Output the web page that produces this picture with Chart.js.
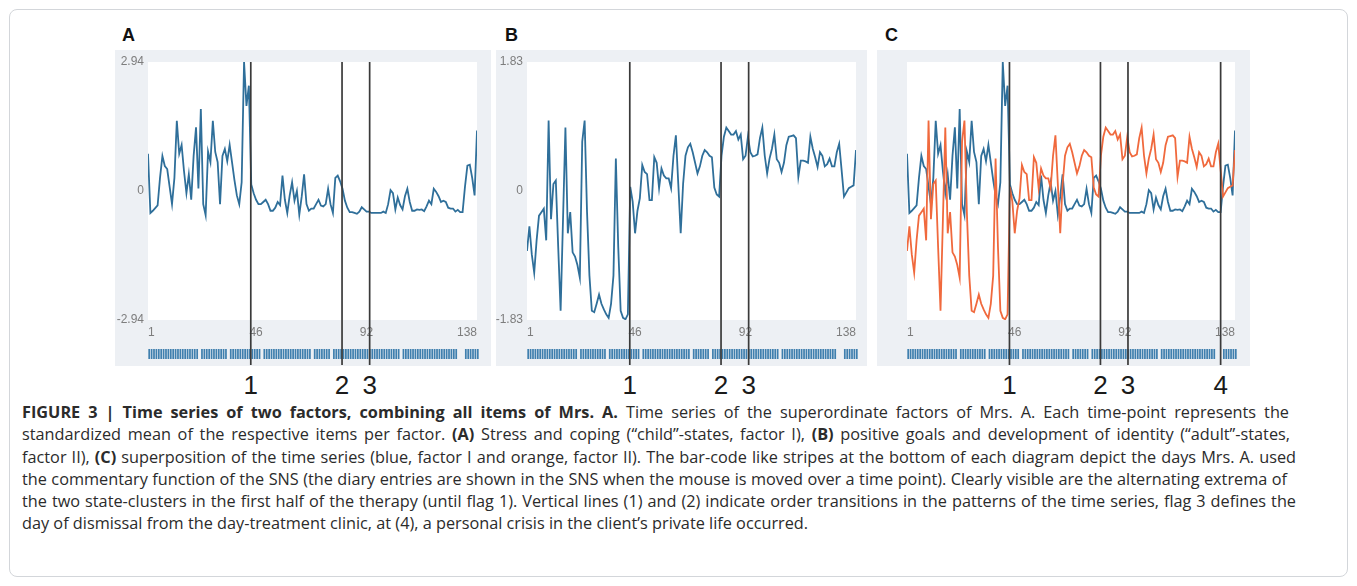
<!DOCTYPE html>
<html><head><meta charset="utf-8">
<script src="https://cdn.jsdelivr.net/npm/chart.js@4.4.1/dist/chart.umd.min.js"></script>
<style>
html,body{margin:0;padding:0;background:#fff;}
body{width:1357px;height:586px;position:relative;overflow:hidden;font-family:"Liberation Sans",Arial,sans-serif;}
#frame{position:absolute;left:9px;top:9px;width:1339px;height:568px;border:1px solid #d3d6da;border-radius:8px;box-sizing:border-box;}
.panel{position:absolute;background:#edf0f4;}
.title{position:absolute;top:25px;font-weight:bold;font-size:18px;color:#111;line-height:20px;}
.flagnum{position:absolute;top:371px;font-size:26px;color:#1a1a1a;transform:translateX(-50%);line-height:28px;}
#caption{position:absolute;left:22px;top:401px;font-family:"Open Sans","Liberation Sans",sans-serif;font-size:15px;line-height:22.3px;color:#2b2b2b;white-space:nowrap;}
#caption span{display:inline-block;}
canvas{position:absolute;}
</style></head><body>
<div id="frame"></div>
<div id="caption">
<div><span><b>FIGURE 3 | Time series of two factors, combining all items of Mrs. A.</b> Time series of the superordinate factors of Mrs. A. Each time-point represents the</span></div>
<div><span>standardized mean of the respective items per factor. <b>(A)</b> Stress and coping (“child”-states, factor I), <b>(B)</b> positive goals and development of identity (“adult”-states,</span></div>
<div><span>factor II), <b>(C)</b> superposition of the time series (blue, factor I and orange, factor II). The bar-code like stripes at the bottom of each diagram depict the days Mrs. A. used</span></div>
<div><span>the commentary function of the SNS (the diary entries are shown in the SNS when the mouse is moved over a time point). Clearly visible are the alternating extrema of</span></div>
<div><span>the two state-clusters in the first half of the therapy (until flag 1). Vertical lines (1) and (2) indicate order transitions in the patterns of the time series, flag 3 defines the</span></div>
<div><span>day of dismissal from the day-treatment clinic, at (4), a personal crisis in the client’s private life occurred.</span></div>
</div>
<script>
// ---- data ----
const days = Array.from({length:138},(_,i)=>i+1);
const xTickValues = [1, 46, 92, 138];
const factorI = [
 0.85,-0.5,-0.45,-0.39,-0.33,0.3,0.8,0.57,0.5,0.1,
 -0.3,0.3,1.6,0.85,1.05,0.45,-0.05,0.38,-0.2,0.8,
 1.45,0.06,1.87,-0.3,-0.55,0.9,0.66,1.6,0.89,0.66,
 -0.3,0.8,0.96,0.68,1.05,0.65,0.25,-0.1,-0.3,0.2,
 2.94,1.94,2.4,0.15,-0.05,-0.2,-0.3,-0.3,-0.25,-0.2,
 -0.3,-0.45,-0.45,-0.38,-0.25,-0.32,0.35,-0.2,-0.5,-0.1,
 0.2,-0.22,0.0,-0.54,-0.13,0.38,-0.3,-0.45,-0.4,-0.4,
 -0.3,-0.2,-0.33,-0.35,-0.3,0.05,-0.3,-0.5,0.3,0.35,
 0.22,0.05,-0.22,-0.38,-0.48,-0.48,-0.5,-0.52,-0.47,-0.37,
 -0.42,-0.47,-0.47,-0.5,-0.5,-0.5,-0.5,-0.5,-0.47,-0.5,
 -0.3,0.02,-0.05,-0.42,-0.15,-0.32,-0.42,-0.12,0.05,-0.25,
 -0.45,-0.45,-0.42,-0.43,-0.42,-0.46,-0.35,-0.22,-0.3,0.05,
 -0.02,-0.12,-0.25,-0.22,-0.25,-0.38,-0.4,-0.4,-0.47,-0.43,
 -0.48,-0.48,0.1,0.58,0.6,0.3,-0.1,1.38
];
const factorII = [
 -0.85,-0.5,-0.9,-1.16,-0.7,-0.35,-0.3,-0.25,-0.7,1.0,
 -0.4,0.1,0.15,-0.8,-1.7,-0.4,0.9,-0.6,-0.3,-0.87,
 -0.93,-1.05,-1.23,0.7,1.0,-0.3,-1.2,-1.7,-1.72,-1.6,
 -1.47,-1.6,-1.68,-1.75,-1.8,-1.6,-1.2,0.46,-0.8,-1.7,
 -1.8,-1.82,-1.75,0.06,-0.15,-0.6,-0.28,-0.1,0.37,0.27,
 0.24,-0.13,-0.13,0.48,0.4,0.04,0.32,0.22,0.18,0.18,
 0.04,0.5,0.79,0.1,-0.6,0.1,0.5,0.62,0.67,0.55,
 0.4,0.25,0.35,0.5,0.58,0.55,0.5,0.48,0.05,-0.05,
 -0.08,0.5,0.77,0.9,0.85,0.8,0.8,0.85,0.73,0.8,
 0.45,0.5,0.77,0.55,0.49,0.5,0.52,0.75,0.9,0.5,
 0.25,0.46,0.6,0.8,0.45,0.4,0.27,0.4,0.65,0.77,
 0.78,0.79,0.75,0.2,0.43,0.43,0.42,0.4,0.77,0.6,
 0.48,0.34,0.55,0.5,0.35,0.38,0.46,0.35,0.35,0.55,
 0.67,0.3,-0.08,-0.02,0.04,0.06,0.08,0.58
];
const rangeI = 2.94;
const rangeII = 1.83;
const noCommentDays = [22, 34, 48, 69, 77, 106, 130, 131, 132];
const flagsAB = [43.8, 81.8, 93.3];
const flagsC = [43.8, 81.8, 93.3, 132];
const flagLabelsAB = ['1','2','3'];
const flagLabelsC = ['1','2','3','4'];

// ---- styles ----
const BLUE = '#2f6f9a';
const ORANGE = '#f0693d';
const TICK = '#7d7d7d';

const panels = [
  {name:'A', box:[115,50,376,316], plot:[148,62,477,320], titleX:122, y:'I', flags:flagsAB, flagLabels:flagLabelsAB},
  {name:'B', box:[496,50,371,316], plot:[527,62,856,320], titleX:505, y:'II', flags:flagsAB, flagLabels:flagLabelsAB},
  {name:'C', box:[877,50,373,316], plot:[907,62,1235,320], titleX:885, y:'both', flags:flagsC, flagLabels:flagLabelsC}
];

const whiteArea = {id:'whiteArea', beforeDraw(chart){
  const {ctx, chartArea:a} = chart; ctx.save(); ctx.fillStyle='#fff';
  ctx.fillRect(a.left, a.top, a.right-a.left, a.bottom-a.top); ctx.restore();
}};
const flagLines = {id:'flagLines', afterDatasetsDraw(chart, args, opts){
  const {ctx, chartArea:a} = chart; const xs = chart.scales.x;
  ctx.save(); ctx.strokeStyle='#3a3a3a'; ctx.lineWidth=1.7;
  opts.flags.forEach(f=>{ const x = xs.getPixelForValue(f);
    ctx.beginPath(); ctx.moveTo(x, a.top); ctx.lineTo(x, chart.height-1); ctx.stroke(); });
  ctx.restore();
}};

function addCanvas(l,t,w,h){
  const c = document.createElement('canvas');
  c.width = w; c.height = h;
  c.style.left = l+'px'; c.style.top = t+'px'; c.style.width = w+'px'; c.style.height = h+'px';
  document.body.appendChild(c); return c;
}

panels.forEach(p=>{
  const [bl,bt,bw,bh] = p.box; const [pl,pt,pr,pb] = p.plot;
  const g = document.createElement('div'); g.className='panel';
  Object.assign(g.style,{left:bl+'px',top:bt+'px',width:bw+'px',height:bh+'px'});
  document.body.appendChild(g);
  const t = document.createElement('div'); t.className='title'; t.textContent=p.name; t.style.left=p.titleX+'px';
  document.body.appendChild(t);

  // barcode of commentary days
  const bc = addCanvas(pl, 349, pr-pl+2, 10);
  new Chart(bc, {type:'bar', data:{labels:days, datasets:[{data:days.map(d=>noCommentDays.includes(d)?0:1),
      backgroundColor:'#3f7fae', borderWidth:0, barPercentage:0.72, categoryPercentage:1}]},
    options:{responsive:false, animation:false, events:[], layout:{padding:0},
      plugins:{legend:{display:false}, tooltip:{enabled:false}},
      scales:{x:{display:false}, y:{display:false, min:0, max:1}}}});

  // main chart
  const c = addCanvas(bl, bt, bw, bh);
  const ds = [];
  const scales = {
    x:{type:'linear', min:1, max:138, grid:{display:false, drawTicks:false}, border:{display:false},
       afterBuildTicks:s=>{s.ticks = xTickValues.map(v=>({value:v}));},
       afterFit:s=>{s.height = (bt+bh) - pb;},
       ticks:{color:TICK, font:{family:'Liberation Sans, Arial', size:12}, padding:5, align:'inner', maxRotation:0, autoSkip:false,
         callback:v=>String(v)}}
  };
  if (p.y==='I' || p.y==='II'){
    const r = p.y==='I'?rangeI:rangeII;
    ds.push({data:(p.y==='I'?factorI:factorII).map((v,i)=>({x:days[i], y:v})), borderColor:BLUE, borderWidth:1.8, pointRadius:0, tension:0, yAxisID:'y'});
    scales.y = {min:-r, max:r, grid:{display:false, drawTicks:false}, border:{display:false},
      afterBuildTicks:s=>{s.ticks=[{value:-r},{value:0},{value:r}];},
      afterFit:s=>{s.width = pl-bl;},
      ticks:{color:TICK, font:{family:'Liberation Sans, Arial', size:12}, padding:4, callback:v=>v===0?'0':v.toFixed(2)}};
  } else {
    ds.push({data:factorII.map((v,i)=>({x:days[i], y:v})), borderColor:ORANGE, borderWidth:1.8, pointRadius:0, tension:0, yAxisID:'y2'});
    ds.push({data:factorI.map((v,i)=>({x:days[i], y:v})), borderColor:BLUE, borderWidth:1.8, pointRadius:0, tension:0, yAxisID:'y'});
    scales.y = {display:false, min:-rangeI, max:rangeI};
    scales.y2 = {display:false, min:-rangeII, max:rangeII};
  }
  const chart = new Chart(c, {type:'line', data:{datasets:ds},
    options:{responsive:false, animation:false, events:[],
      layout:{padding:{top:pt-bt, right:(bl+bw)-pr, bottom:0, left:p.y==='both'?pl-bl:0}},
      plugins:{legend:{display:false}, tooltip:{enabled:false}, flagLines:{flags:p.flags}},
      scales},
    plugins:[whiteArea, flagLines]});
  p.flags.forEach((f,i)=>{
    const x = bl + chart.scales.x.getPixelForValue(f);
    const n = document.createElement('div'); n.className='flagnum'; n.textContent=p.flagLabels[i];
    n.style.left = x+'px'; document.body.appendChild(n);
  });
});

// caption: size font so the last line ends where it does in the figure,
// then nudge word spacing so lines 1-5 end at their observed right edges
const cap = document.getElementById('caption');
const spans = document.querySelectorAll('#caption span');
const lastEnd = 809;
const w6 = spans[5].getBoundingClientRect().width;
cap.style.fontSize = (15*(lastEnd-22)/w6).toFixed(2)+'px';
const lineEnds = [1289, 1290, 1296, 1287, 1296];
lineEnds.forEach((end,i)=>{
  const s = spans[i];
  const w = s.getBoundingClientRect().width;
  const nSp = (s.textContent.match(/ /g)||[]).length;
  const extra = (end - 22) - w;
  if (nSp>0) s.style.wordSpacing = (extra/nSp).toFixed(3)+'px';
});
</script>
</body></html>
